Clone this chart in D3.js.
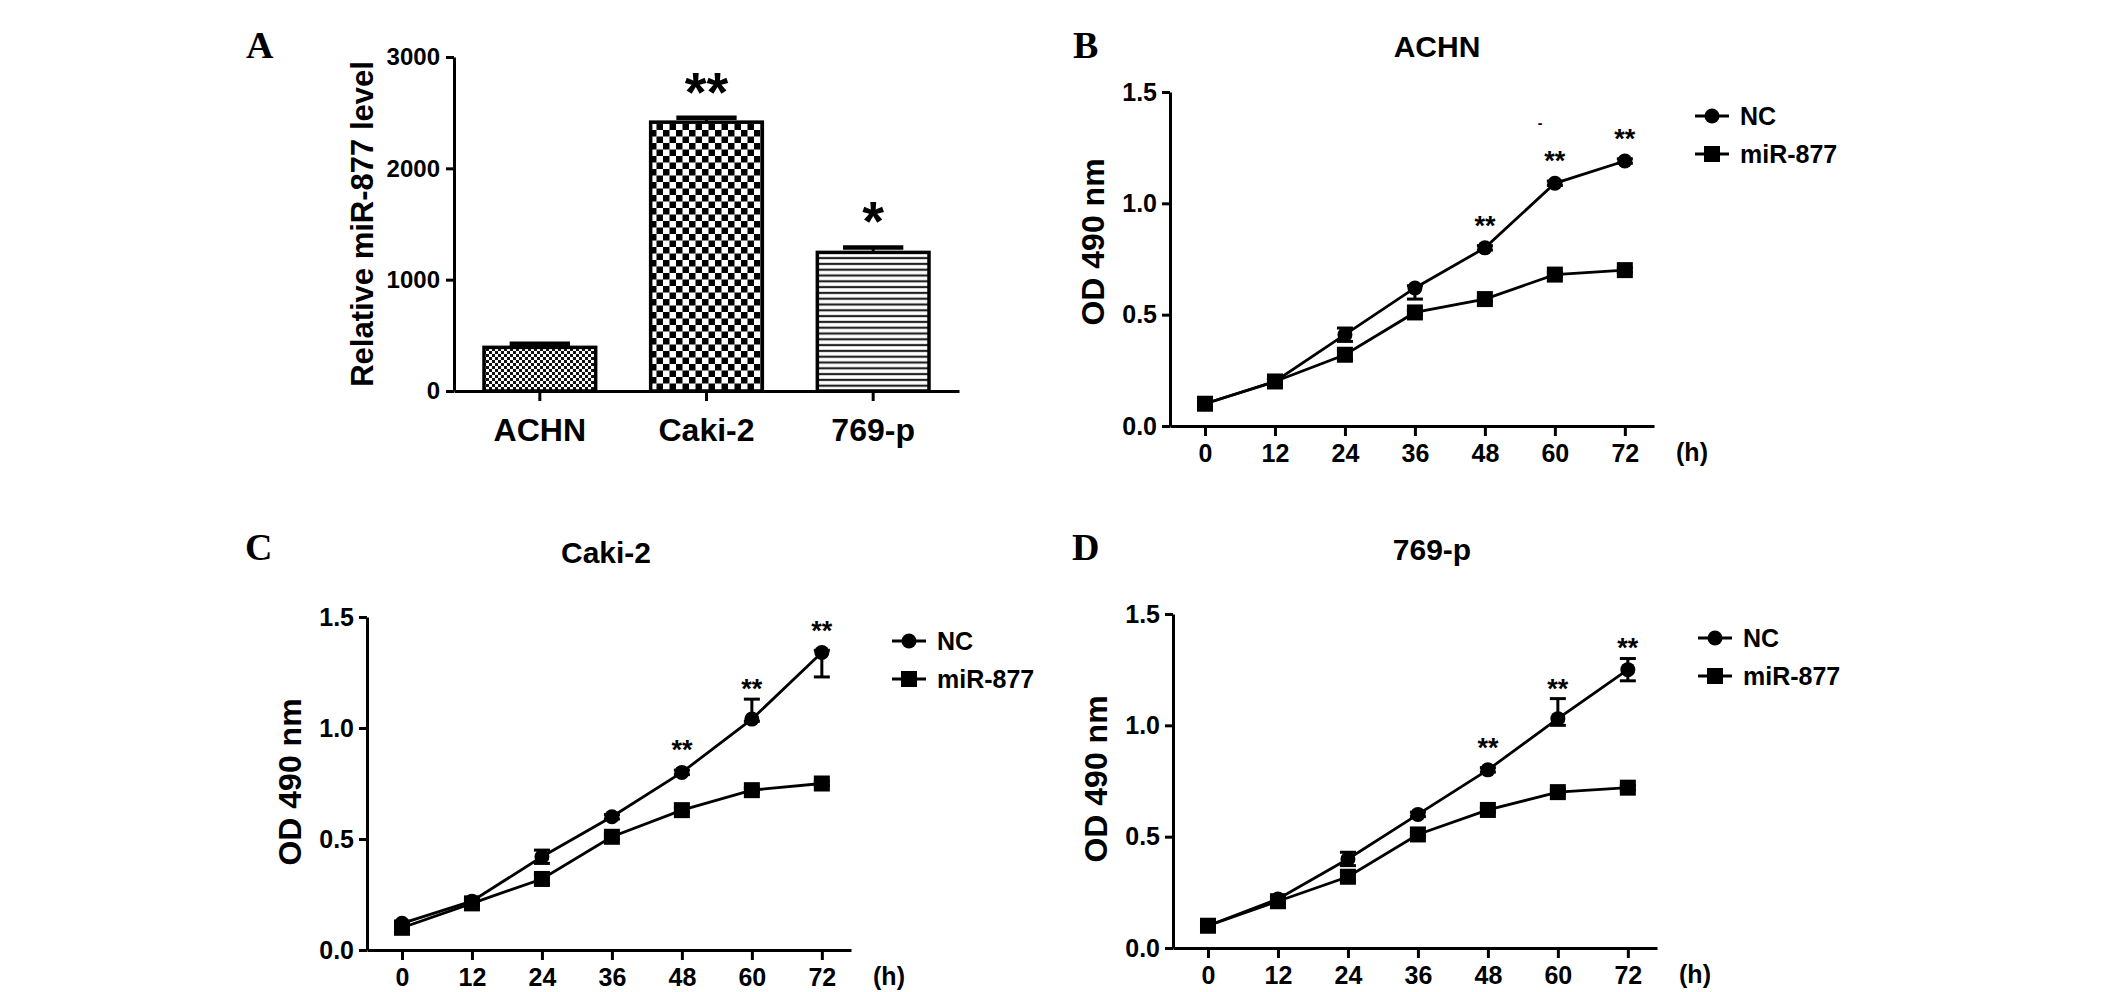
<!DOCTYPE html>
<html>
<head>
<meta charset="utf-8">
<script src="https://cdn.jsdelivr.net/npm/d3@7/dist/d3.min.js"></script>
<style>
  html, body { margin: 0; padding: 0; background: #fff; }
  svg text { font-family: 'Liberation Sans', Arial, sans-serif; font-weight: bold; fill: #000; }
  svg text.letter { font-family: 'Liberation Serif', 'Times New Roman', serif; }
</style>
</head>
<body>
<svg id="fig" width="2126" height="992"></svg>
<script>
// ---- data ----
const cellLines = ['ACHN', 'Caki-2', '769-p']
const mirLevel = [392, 2415, 1245]
const mirLevelErr = [32, 40, 45]
const mirLevelStars = ['', '**', '*']
const mirTicks = [0, 1000, 2000, 3000]

const hours = [0, 12, 24, 36, 48, 60, 72]
const odTicks = [0, 0.5, 1.0, 1.5]

const achnNC = [0.10, 0.20, 0.41, 0.62, 0.80, 1.09, 1.19]
const achnNCErrHi = [0.01, 0.01, 0.03, 0.01, 0.01, 0.01, 0.01]
const achnNCErrLo = [0.01, 0.01, 0.03, 0.05, 0.01, 0.01, 0.01]
const achnMiR = [0.10, 0.20, 0.32, 0.51, 0.57, 0.68, 0.70]
const achnMiRErr = [0.01, 0.01, 0.02, 0.01, 0.01, 0.01, 0.01]
const achnStars = ['', '', '', '', '**', '**', '**']

const cakiNC = [0.12, 0.22, 0.42, 0.60, 0.80, 1.04, 1.34]
const cakiNCErrHi = [0.01, 0.01, 0.03, 0.01, 0.01, 0.09, 0.01]
const cakiNCErrLo = [0.01, 0.01, 0.03, 0.01, 0.01, 0.01, 0.11]
const cakiMiR = [0.10, 0.21, 0.32, 0.51, 0.63, 0.72, 0.75]
const cakiMiRErr = [0.01, 0.01, 0.02, 0.01, 0.01, 0.01, 0.01]
const cakiStars = ['', '', '', '', '**', '**', '**']

const p769NC = [0.10, 0.22, 0.40, 0.60, 0.80, 1.03, 1.25]
const p769NCErrHi = [0.01, 0.01, 0.03, 0.01, 0.01, 0.09, 0.05]
const p769NCErrLo = [0.01, 0.01, 0.03, 0.01, 0.01, 0.03, 0.05]
const p769MiR = [0.10, 0.21, 0.32, 0.51, 0.62, 0.70, 0.72]
const p769MiRErr = [0.01, 0.01, 0.02, 0.01, 0.01, 0.01, 0.01]
const p769Stars = ['', '', '', '', '**', '**', '**']

const seriesNames = ['NC', 'miR-877']

const svg = d3.select('#fig')
svg.append('rect').attr('width', 2126).attr('height', 992).attr('fill', '#fff')

// ---- patterns for the bars ----
const defs = svg.append('defs')
const fine = defs.append('pattern').attr('id', 'pat-fine')
  .attr('patternUnits', 'userSpaceOnUse').attr('width', 6).attr('height', 6)
fine.append('rect').attr('width', 6).attr('height', 6).attr('fill', '#fff')
fine.append('rect').attr('width', 3).attr('height', 3).attr('fill', '#111')
fine.append('rect').attr('x', 3).attr('y', 3).attr('width', 3).attr('height', 3).attr('fill', '#111')

const coarse = defs.append('pattern').attr('id', 'pat-coarse')
  .attr('patternUnits', 'userSpaceOnUse').attr('width', 13).attr('height', 13)
coarse.append('rect').attr('width', 13).attr('height', 13).attr('fill', '#fff')
coarse.append('rect').attr('width', 6.5).attr('height', 6.5).attr('fill', '#000')
coarse.append('rect').attr('x', 6.5).attr('y', 6.5).attr('width', 6.5).attr('height', 6.5).attr('fill', '#000')

const stripes = defs.append('pattern').attr('id', 'pat-stripes')
  .attr('patternUnits', 'userSpaceOnUse').attr('width', 6).attr('height', 5.8)
stripes.append('rect').attr('width', 6).attr('height', 5.8).attr('fill', '#fff')
stripes.append('rect').attr('y', 1.8).attr('width', 6).attr('height', 2.2).attr('fill', '#222')

const barFills = ['url(#pat-fine)', 'url(#pat-coarse)', 'url(#pat-stripes)']

function letter (txt, x, y) {
  svg.append('text').attr('class', 'letter').attr('x', x).attr('y', y)
    .attr('font-size', 38).text(txt)
}

function styleAxis (g) {
  g.selectAll('.domain').attr('stroke', '#000').attr('stroke-width', 3)
  g.selectAll('.tick line').attr('stroke', '#000').attr('stroke-width', 3)
  g.selectAll('.tick text').attr('fill', '#000')
    .style('font-family', "'Liberation Sans', Arial, sans-serif").style('font-weight', 'bold')
}

// ---- panel A: bar chart ----
function drawBars () {
  const left = 454, right = 959, top = 57, bottom = 391
  const x = d3.scaleBand().domain(cellLines).range([left, right])
    .paddingInner(0.33).paddingOuter(0.18)
  const y = d3.scaleLinear().domain([0, 3000]).range([bottom, top])
  const g = svg.append('g')

  const bars = g.selectAll('g.bar').data(cellLines).enter().append('g')
  bars.append('rect')
    .attr('x', d => x(d))
    .attr('y', (d, i) => y(mirLevel[i]))
    .attr('width', x.bandwidth())
    .attr('height', (d, i) => bottom - y(mirLevel[i]))
    .attr('fill', (d, i) => barFills[i])
    .attr('stroke', '#000').attr('stroke-width', 3.5)
  // error caps
  bars.append('line')
    .attr('x1', d => x(d) + x.bandwidth() * 0.23)
    .attr('x2', d => x(d) + x.bandwidth() * 0.77)
    .attr('y1', (d, i) => y(mirLevel[i] + mirLevelErr[i]))
    .attr('y2', (d, i) => y(mirLevel[i] + mirLevelErr[i]))
    .attr('stroke', '#000').attr('stroke-width', 4.5)
  bars.append('line')
    .attr('x1', d => x(d) + x.bandwidth() / 2)
    .attr('x2', d => x(d) + x.bandwidth() / 2)
    .attr('y1', (d, i) => y(mirLevel[i]))
    .attr('y2', (d, i) => y(mirLevel[i] + mirLevelErr[i]))
    .attr('stroke', '#000').attr('stroke-width', 3)
  bars.append('text')
    .attr('x', d => x(d) + x.bandwidth() / 2)
    .attr('y', (d, i) => y(mirLevel[i] + mirLevelErr[i]) - 38 + 31)
    .attr('text-anchor', 'middle').attr('font-size', 56)
    .text((d, i) => mirLevelStars[i])

  const yAxis = g.append('g').attr('transform', `translate(${left},0)`)
    .call(d3.axisLeft(y).tickValues(mirTicks).tickFormat(d3.format('d'))
      .tickSize(8).tickPadding(6).tickSizeOuter(0))
  yAxis.selectAll('.tick text').attr('font-size', 24)
  styleAxis(yAxis)

  const xAxis = g.append('g').attr('transform', `translate(0,${bottom})`)
    .call(d3.axisBottom(x).tickSize(10).tickSizeOuter(0).tickPadding(17))
  xAxis.selectAll('.tick text').attr('font-size', 32)
  styleAxis(xAxis)

  g.append('text')
    .attr('transform', `translate(373,${(top + bottom) / 2}) rotate(-90)`)
    .attr('text-anchor', 'middle').attr('font-size', 31)
    .text('Relative miR-877 level')
}

// ---- panels B-D: growth curves ----
function drawCurves (p) {
  const x = d3.scaleLinear().domain([-6, 77]).range([p.left, p.left + 484])
  const y = d3.scaleLinear().domain([0, 1.5]).range([p.bottom, p.top])
  const g = svg.append('g')

  const xAxis = g.append('g').attr('transform', `translate(0,${p.bottom})`)
    .call(d3.axisBottom(x).tickValues(hours).tickSize(10).tickSizeOuter(0).tickPadding(8))
  xAxis.selectAll('.tick text').attr('font-size', 25)
  styleAxis(xAxis)

  const yAxis = g.append('g').attr('transform', `translate(${p.left},0)`)
    .call(d3.axisLeft(y).tickValues(odTicks).tickFormat(d3.format('.1f'))
      .tickSize(8).tickSizeOuter(0).tickPadding(5))
  yAxis.selectAll('.tick text').attr('font-size', 25)
  styleAxis(yAxis)

  g.append('text').attr('x', p.left + 522).attr('y', p.bottom + 35)
    .attr('text-anchor', 'middle').attr('font-size', 25).text('(h)')

  g.append('text')
    .attr('transform', `translate(${p.left - 66},${p.top + p.labelDy}) rotate(-90)`)
    .attr('text-anchor', 'middle').attr('font-size', 32).text('OD 490 nm')

  g.append('text').attr('x', p.titleX).attr('y', p.titleY)
    .attr('text-anchor', 'middle').attr('font-size', 30).text(p.title)

  const line = d3.line().x((d, i) => x(hours[i])).y(d => y(d))
  const series = [
    { vals: p.miR, hi: p.miRErr, lo: p.miRErr, shape: 'square' },
    { vals: p.nc, hi: p.ncHi, lo: p.ncLo, shape: 'circle' }
  ]
  series.forEach(s => {
    g.append('path').datum(s.vals).attr('d', line)
      .attr('fill', 'none').attr('stroke', '#000').attr('stroke-width', 2.8)
    const eb = g.append('g')
    s.vals.forEach((v, i) => {
      const cx = x(hours[i])
      const y1 = y(v + s.hi[i]), y2 = y(v - s.lo[i])
      eb.append('line').attr('x1', cx).attr('x2', cx).attr('y1', y1).attr('y2', y2)
        .attr('stroke', '#000').attr('stroke-width', 3)
      eb.append('line').attr('x1', cx - 8).attr('x2', cx + 8).attr('y1', y1).attr('y2', y1)
        .attr('stroke', '#000').attr('stroke-width', 3)
      eb.append('line').attr('x1', cx - 8).attr('x2', cx + 8).attr('y1', y2).attr('y2', y2)
        .attr('stroke', '#000').attr('stroke-width', 3)
    })
    if (s.shape === 'circle') {
      g.selectAll(null).data(s.vals).enter().append('circle')
        .attr('cx', (d, i) => x(hours[i])).attr('cy', d => y(d)).attr('r', 7.5)
        .attr('fill', '#000')
    } else {
      g.selectAll(null).data(s.vals).enter().append('rect')
        .attr('x', (d, i) => x(hours[i]) - 8).attr('y', d => y(d) - 8)
        .attr('width', 16).attr('height', 16).attr('fill', '#000')
    }
  })

  // significance marks above NC
  g.selectAll(null).data(p.stars).enter().append('text')
    .attr('x', (d, i) => x(hours[i]))
    .attr('y', (d, i) => Math.min(y(p.nc[i]) - 28, y(p.nc[i] + p.ncHi[i]) - 16) + 15)
    .attr('text-anchor', 'middle').attr('font-size', 27)
    .text(d => d)

  // legend
  const lg = g.append('g').attr('transform', `translate(${p.left + 542},${p.top + 24})`)
  seriesNames.forEach((name, i) => {
    const row = lg.append('g').attr('transform', `translate(0,${i * 38})`)
    row.append('line').attr('x1', -17).attr('x2', 17).attr('stroke', '#000').attr('stroke-width', 3)
    if (i === 0) row.append('circle').attr('r', 7.5).attr('fill', '#000')
    else row.append('rect').attr('x', -8).attr('y', -8).attr('width', 16).attr('height', 16).attr('fill', '#000')
    row.append('text').attr('x', 28).attr('y', 9).attr('font-size', 25).text(name)
  })
  return g
}

drawBars()
const gB = drawCurves({
  left: 1170, top: 92, bottom: 426, labelDy: 150,
  title: 'ACHN', titleX: 1437, titleY: 57,
  nc: achnNC, ncHi: achnNCErrHi, ncLo: achnNCErrLo, miR: achnMiR, miRErr: achnMiRErr, stars: achnStars
})
// stray dash present in the original panel B
gB.append('text').attr('x', 1540).attr('y', 128).attr('text-anchor', 'middle')
  .attr('font-size', 14).text('-')
drawCurves({
  left: 367, top: 617, bottom: 950, labelDy: 165,
  title: 'Caki-2', titleX: 606, titleY: 563,
  nc: cakiNC, ncHi: cakiNCErrHi, ncLo: cakiNCErrLo, miR: cakiMiR, miRErr: cakiMiRErr, stars: cakiStars
})
drawCurves({
  left: 1173, top: 614, bottom: 948, labelDy: 165,
  title: '769-p', titleX: 1432, titleY: 560,
  nc: p769NC, ncHi: p769NCErrHi, ncLo: p769NCErrLo, miR: p769MiR, miRErr: p769MiRErr, stars: p769Stars
})

letter('A', 246, 58)
letter('B', 1073, 58)
letter('C', 245, 560)
letter('D', 1072, 560)
</script>
</body>
</html>
